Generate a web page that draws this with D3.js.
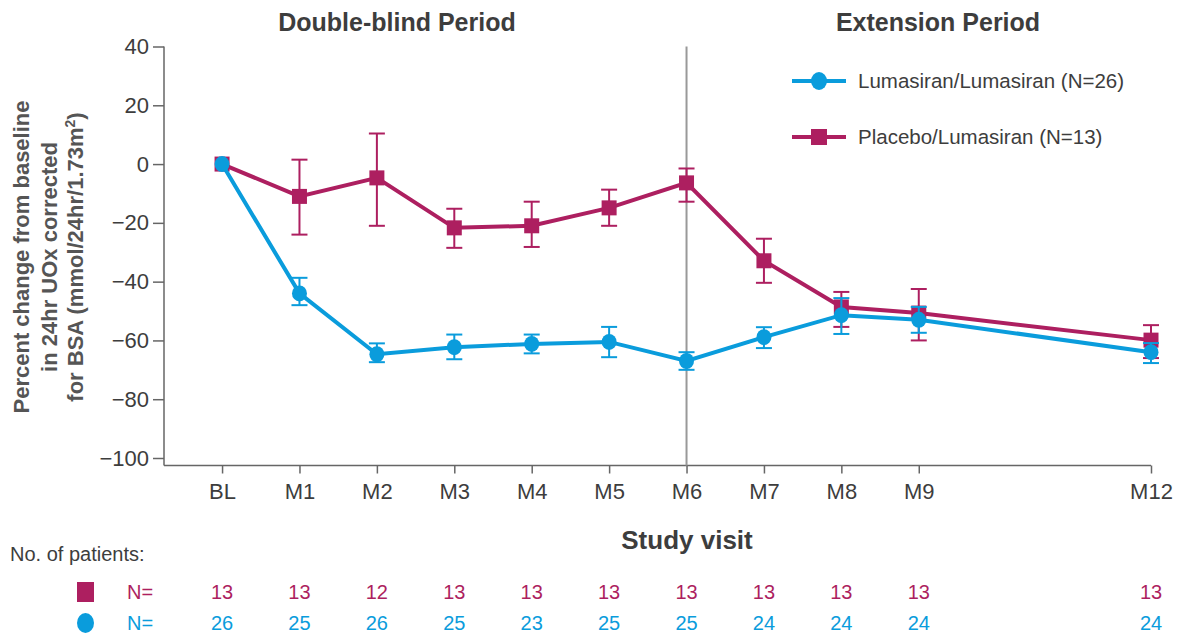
<!DOCTYPE html>
<html><head><meta charset="utf-8">
<script src="https://cdn.jsdelivr.net/npm/d3@7"></script>
<style>
body{margin:0;background:#fff;}
text{font-family:"Liberation Sans",Arial,sans-serif;}
</style></head>
<body><svg id="c" width="1179" height="634"></svg>
<script>
const visits = ["BL","M1","M2","M3","M4","M5","M6","M7","M8","M9","M12"];
const months = [0,1,2,3,4,5,6,7,8,9,12];
const yTicks = [40,20,0,-20,-40,-60,-80,-100];

const lumaMean  = [0,-44,-64.7,-62.3,-61.2,-60.5,-67,-58.9,-51.4,-53,-64];
const lumaLow   = [0,-48,-67.4,-66.4,-64.4,-65.7,-70,-62.6,-57.8,-57.4,-67.7];
const lumaHigh  = [0,-38.7,-61,-58,-58,-55.4,-64,-55.5,-45.6,-48.6,-60.9];

const placMean  = [0,-11,-4.7,-21.7,-21,-14.9,-6.4,-32.9,-48.6,-50.7,-59.9];
const placLow   = [0,-24,-21,-28.5,-28.2,-21,-12.8,-40.4,-55.4,-60,-66];
const placHigh  = [0,1.5,10.4,-15.2,-12.8,-8.7,-1.5,-25.4,-43.5,-42.5,-54.8];

const nPlacebo = [13,13,12,13,13,13,13,13,13,13,13];
const nLuma    = [26,25,26,25,23,25,25,24,24,24,24];

const legendLabels = ["Lumasiran/Lumasiran (N=26)","Placebo/Lumasiran (N=13)"];

const BLUE="#0a9cdc", MAG="#ad1f60", TXT="#3d3d3d", AX="#666";

const svg=d3.select("#c");
const x=d3.scaleLinear().domain([-0.75,12]).range([164,1151]);
const y=d3.scaleLinear().domain([40,-100]).range([46.5,458]);
const axisY=465.5;

// y axis
const ya=svg.append("g").attr("transform","translate(164,0)")
  .call(d3.axisLeft(y).tickValues(yTicks).tickSize(11).tickPadding(4)
  .tickFormat(d=>d<0?"\u2212"+Math.abs(d):d));
ya.select(".domain").attr("d",`M0,${y(40)}V${axisY}`).attr("stroke",AX).attr("stroke-width",1.5);
ya.selectAll(".tick line").attr("stroke",AX).attr("stroke-width",1.5);
ya.selectAll(".tick text").attr("fill",TXT).style("font-size","22px");

// x axis
const xa=svg.append("g").attr("transform",`translate(0,${axisY})`)
  .call(d3.axisBottom(x).tickValues(months).tickSize(8).tickPadding(10)
  .tickFormat((d,i)=>visits[i]));
xa.select(".domain").attr("d",`M164,0H${x(12)}`).attr("stroke",AX).attr("stroke-width",1.5);
xa.selectAll(".tick line").attr("stroke",AX).attr("stroke-width",1.5);
xa.selectAll(".tick text").attr("fill",TXT).style("font-size","22px");

// M6 divider
svg.append("line").attr("x1",x(6)).attr("x2",x(6)).attr("y1",y(40)).attr("y2",axisY)
  .attr("stroke","#999").attr("stroke-width",2);

// period titles
svg.append("text").attr("x",397).attr("y",31).attr("text-anchor","middle")
  .attr("font-weight","bold").attr("fill",TXT).style("font-size","25px").text("Double-blind Period");
svg.append("text").attr("x",938).attr("y",31).attr("text-anchor","middle")
  .attr("font-weight","bold").attr("fill",TXT).style("font-size","25px").text("Extension Period");

// y label
const yl=svg.append("text").attr("transform","translate(0,257) rotate(-90)")
  .attr("text-anchor","middle").attr("font-weight","bold").attr("fill","#555").style("font-size","22px");
yl.append("tspan").attr("x",0).attr("y",29).text("Percent change from baseline");
yl.append("tspan").attr("x",0).attr("y",57).text("in 24hr UOx corrected");
yl.append("tspan").attr("x",0).attr("y",83).text("for BSA (mmol/24hr/1.73m");
yl.append("tspan").attr("dy",-8).style("font-size","14px").text("2");
yl.append("tspan").attr("dy",8).text(")");

// study visit
svg.append("text").attr("x",687).attr("y",549).attr("text-anchor","middle")
  .attr("font-weight","bold").attr("fill",TXT).style("font-size","26px").text("Study visit");

function series(mean,low,high,color,shape){
  const g=svg.append("g");
  const line=d3.line().x((d,i)=>x(months[i])).y(d=>y(d));
  g.append("path").datum(mean).attr("d",line).attr("fill","none").attr("stroke",color).attr("stroke-width",4);
  months.forEach((m,i)=>{
    if(i===0) return;
    const cx=x(m);
    g.append("line").attr("x1",cx).attr("x2",cx).attr("y1",y(low[i])).attr("y2",y(high[i])).attr("stroke",color).attr("stroke-width",2);
    [low[i],high[i]].forEach(v=>g.append("line").attr("x1",cx-8).attr("x2",cx+8).attr("y1",y(v)).attr("y2",y(v)).attr("stroke",color).attr("stroke-width",2));
  });
  months.forEach((m,i)=>{
    if(shape==="sq") g.append("rect").attr("x",x(m)-7.5).attr("y",y(mean[i])-7.5).attr("width",15).attr("height",15).attr("fill",color);
    else g.append("ellipse").attr("cx",x(m)).attr("cy",y(mean[i])).attr("rx",7.5).attr("ry",8).attr("fill",color);
  });
}
series(placMean,placLow,placHigh,MAG,"sq");
series(lumaMean,lumaLow,lumaHigh,BLUE,"ci");

// legend
const lg=[{c:BLUE,s:"ci",y:81},{c:MAG,s:"sq",y:137}];
lg.forEach((d,i)=>{
  svg.append("line").attr("x1",792).attr("x2",846).attr("y1",d.y).attr("y2",d.y).attr("stroke",d.c).attr("stroke-width",4);
  if(d.s==="sq") svg.append("rect").attr("x",811).attr("y",d.y-8).attr("width",16).attr("height",16).attr("fill",d.c);
  else svg.append("ellipse").attr("cx",819).attr("cy",d.y).attr("rx",8).attr("ry",9).attr("fill",d.c);
  svg.append("text").attr("x",858).attr("y",d.y+7).attr("fill",TXT).style("font-size","20.5px").text(legendLabels[i]);
});

// table
svg.append("text").attr("x",10).attr("y",561).attr("fill",TXT).style("font-size","20px").text("No. of patients:");
svg.append("rect").attr("x",77).attr("y",582).attr("width",17).attr("height",20).attr("fill",MAG);
svg.append("ellipse").attr("cx",85.5).attr("cy",623).attr("rx",8.5).attr("ry",10).attr("fill",BLUE);
[[MAG,599,nPlacebo],[BLUE,630,nLuma]].forEach(([c,yy,arr])=>{
  svg.append("text").attr("x",140).attr("y",yy).attr("text-anchor","middle").attr("fill",c).style("font-size","20px").text("N=");
  arr.forEach((v,i)=>svg.append("text").attr("x",x(months[i])).attr("y",yy).attr("text-anchor","middle").attr("fill",c).style("font-size","20px").text(v));
});
</script></body></html>
